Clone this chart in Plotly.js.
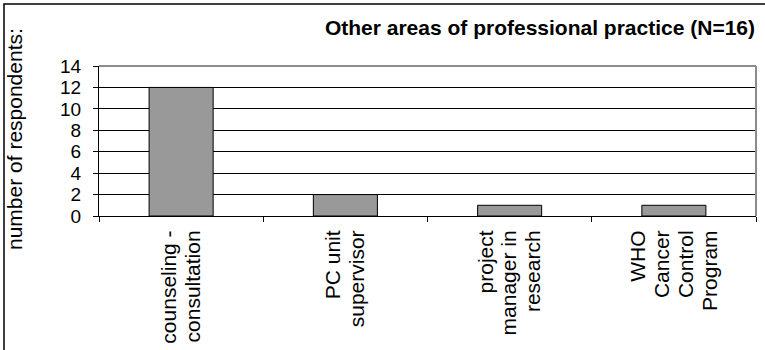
<!DOCTYPE html>
<html>
<head>
<meta charset="utf-8">
<script src="https://cdn.plot.ly/plotly-3.0.1.min.js"></script>
<style>
  html, body { margin: 0; padding: 0; background: #fff; }
  #chart { width: 765px; height: 350px; }
</style>
</head>
<body>
<div id="chart"></div>
<script>
// Areas of professional practice and respondent counts
const categories = [
  'counseling -<br>consultation',
  'PC unit<br>supervisor',
  'project<br>manager in<br>research',
  'WHO<br>Cancer<br>Control<br>Program'
];
const respondents = [12, 2, 1, 1];
const yTicks = [0, 2, 4, 6, 8, 10, 12, 14];

const font = 'Arial, "Liberation Sans", sans-serif';

const trace = {
  type: 'bar',
  x: categories,
  y: respondents,
  marker: { color: '#999999', line: { color: '#000000', width: 1 } },
  hoverinfo: 'x+y'
};

// plot area edges in pixels: left 99, right 756, top 66, bottom 216
const W = 765, H = 350, L = 99, R = 9, T = 66, B = 134;
const pw = W - L - R, ph = H - T - B;
const px = v => (v - L) / pw;           // page x -> paper x
const py = v => (H - B - v) / ph;       // page y -> paper y

const layout = {
  width: W, height: H,
  margin: { l: L, r: R, t: T, b: B, pad: 0 },
  paper_bgcolor: '#ffffff',
  plot_bgcolor: '#ffffff',
  showlegend: false,
  bargap: 0.61,
  font: { family: font, size: 19, color: '#000' },
  title: {
    text: '<b>Other areas of professional practice (N=16)</b>',
    font: { family: font, size: 21, color: '#000' },
    x: px(755), xanchor: 'right', xref: 'paper',
    y: 1 - 28 / H, yanchor: 'middle'
  },
  xaxis: {
    type: 'category',
    tickangle: -90,
    ticks: 'outside', tickson: 'boundaries', ticklen: 5, tickcolor: '#000', tickwidth: 1,
    showline: true, linecolor: '#000', linewidth: 1,
    showgrid: false,
    automargin: false,
    tickfont: { family: font, size: 21, color: '#000' },
    ticklabelstandoff: 5,
    fixedrange: true
  },
  yaxis: {
    range: [0, 14],
    tickvals: yTicks,
    ticks: 'outside', ticklen: 5, tickcolor: '#000', tickwidth: 1,
    showline: true, linecolor: '#000', linewidth: 1,
    showgrid: true, gridcolor: '#000', gridwidth: 1,
    zeroline: false,
    automargin: false,
    tickfont: { family: font, size: 19, color: '#000' },
    ticklabelstandoff: 8,
    fixedrange: true
  },
  annotations: [
    // y-axis caption
    { text: 'number of respondents:', textangle: -90,
      xref: 'paper', yref: 'paper', x: px(14), y: py(139),
      xanchor: 'center', yanchor: 'middle', showarrow: false,
      font: { family: font, size: 21, color: '#000' } }
  ],
  shapes: [
    // outer frame
    { type: 'rect', xref: 'paper', yref: 'paper',
      x0: px(4), x1: px(800), y0: py(400), y1: py(4),
      line: { color: '#000', width: 1.5 }, layer: 'below' },
    // grey top and right edges of the plot area
    { type: 'line', xref: 'paper', yref: 'paper', x0: 0, x1: 1, y0: 1, y1: 1,
      line: { color: '#8c8c8c', width: 2 } },
    { type: 'line', xref: 'paper', yref: 'paper', x0: 1, x1: 1, y0: 0, y1: 1,
      line: { color: '#8c8c8c', width: 2 } }
  ]
};

// tighter line pitch for the wrapped category labels, keeping each block centred
const LABEL_PITCH = 1.14, PLOTLY_PITCH = 1.3;
function tightenLabelLines() {
  document.querySelectorAll('#chart .xtick text').forEach(t => {
    const lines = t.querySelectorAll('tspan.line');
    const n = lines.length;
    if (n < 2) return;
    const shift = (n - 1) * (PLOTLY_PITCH - LABEL_PITCH) / 2;
    lines.forEach((ln, i) => ln.setAttribute('dy', (i * LABEL_PITCH + shift) + 'em'));
  });
}

Plotly.newPlot('chart', [trace], layout, { displayModeBar: false, staticPlot: true })
  .then(tightenLabelLines);
</script>
</body>
</html>
